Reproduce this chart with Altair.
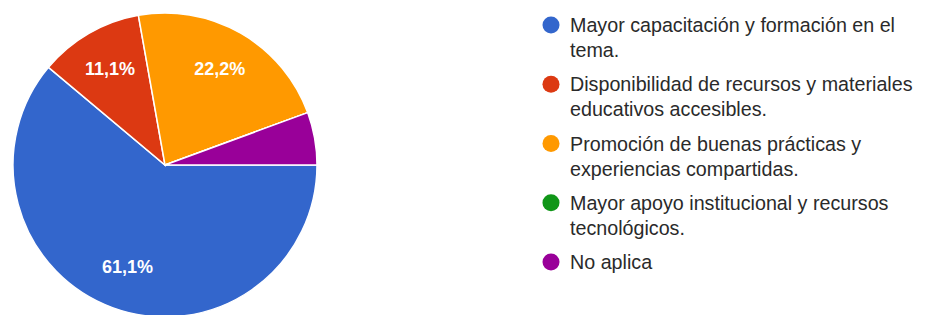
import math
import altair as alt
import pandas as pd

categories = [
    "Mayor capacitación y formación en el tema.",
    "Disponibilidad de recursos y materiales educativos accesibles.",
    "Promoción de buenas prácticas y experiencias compartidas.",
    "Mayor apoyo institucional y recursos tecnológicos.",
    "No aplica",
]
legend_line1 = [
    "Mayor capacitación y formación en el",
    "Disponibilidad de recursos y materiales",
    "Promoción de buenas prácticas y",
    "Mayor apoyo institucional y recursos",
    "No aplica",
]
legend_line2 = [
    "tema.",
    "educativos accesibles.",
    "experiencias compartidas.",
    "tecnológicos.",
    "",
]
percentages = [61.1, 11.1, 22.2, 0.0, 5.6]
slice_labels = ["61,1%", "11,1%", "22,2%", "", ""]
colors = ["#3366cc", "#dc3912", "#ff9900", "#109618", "#990099"]

df = pd.DataFrame({
    "idx": list(range(len(categories))),
    "cat": categories,
    "pct": percentages,
    "label": slice_labels,
    "legend_text": [a + ("\n" + b if b else "") for a, b in zip(legend_line1, legend_line2)],
})

FONT = "Liberation Sans"
CX, CY, R = 157, 157, 152

theta_scale = alt.Scale(range=[math.pi / 2, math.pi / 2 + 2 * math.pi])
color_scale = alt.Scale(domain=categories, range=colors)

base = alt.Chart(df)

pie = base.mark_arc(stroke="white", strokeWidth=1.5).encode(
    theta=alt.Theta("pct:Q", stack=True, scale=theta_scale),
    order=alt.Order("idx:Q"),
    color=alt.Color("cat:N", scale=color_scale, legend=None),
    x=alt.value(CX),
    y=alt.value(CY),
    radius=alt.value(R),
)

pie_labels = base.mark_text(color="white", fontSize=18, fontWeight="bold", font=FONT).encode(
    theta=alt.Theta("pct:Q", stack=True, scale=theta_scale),
    order=alt.Order("idx:Q"),
    text=alt.Text("label:N"),
    x=alt.value(CX),
    y=alt.value(CY),
    radius=alt.value(110),
)

legend_y = alt.Y("idx:Q", scale=alt.Scale(domain=[0, 4], range=[17, 254]), axis=None)

legend_pts = base.mark_circle(size=290, opacity=1).encode(
    x=alt.value(543),
    y=legend_y,
    color=alt.Color("cat:N", scale=color_scale, legend=None),
)

legend_txt = base.mark_text(
    align="left", baseline="alphabetic", dy=7, fontSize=19.7, font=FONT,
    color="#2a2a2a", lineBreak="\n", lineHeight=25,
).encode(
    x=alt.value(562),
    y=legend_y,
    text=alt.Text("legend_text:N"),
)

chart = alt.layer(pie, pie_labels, legend_pts, legend_txt).properties(
    width=910, height=307, padding=0,
    autosize=alt.AutoSizeParams(type="none"),
).configure_view(stroke=None)

chart.save("out.html", embed_options={"renderer": "svg", "actions": False})
